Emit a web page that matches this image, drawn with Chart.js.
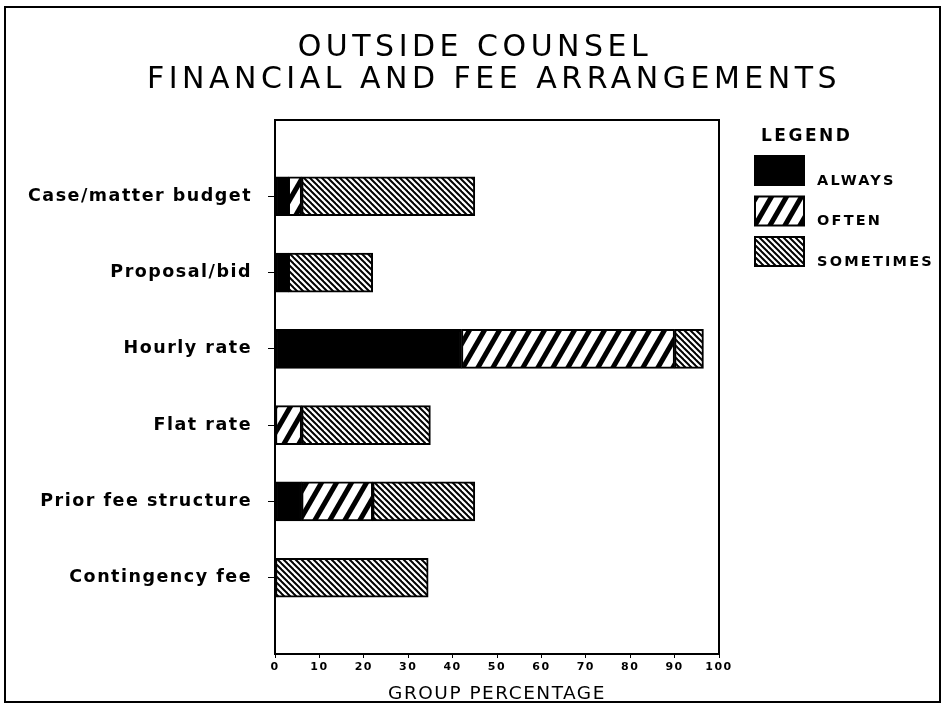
<!DOCTYPE html>
<html>
<head>
<meta charset="utf-8">
<script src="https://cdn.jsdelivr.net/npm/chart.js@4.4.1/dist/chart.umd.min.js"></script>
<style>
  body { margin: 0; background: #fff; }
</style>
</head>
<body>
<canvas id="chart" width="946" height="705"></canvas>
<script>
const categories = ['Case/matter budget', 'Proposal/bid', 'Hourly rate', 'Flat rate', 'Prior fee structure', 'Contingency fee'];
const always = [3, 3, 42, 0, 6, 0];
const often = [3, 0, 48, 6, 16, 0];
const sometimes = [39, 19, 6.5, 29, 23, 34.5];
const seriesNames = ['Always', 'Often', 'Sometimes'];
const titleLines = ['OUTSIDE COUNSEL', 'FINANCIAL AND FEE ARRANGEMENTS'];
const xTickStep = 10;

// hatch fills like the old plotter output
function stripes(w, h, lw, dir) {
  const c = document.createElement('canvas');
  c.width = w; c.height = h;
  const g = c.getContext('2d');
  g.fillStyle = '#fff';
  g.fillRect(0, 0, w, h);
  g.strokeStyle = '#000';
  g.lineWidth = lw;
  for (let i = -2; i <= 2; i++) {
    g.beginPath();
    if (dir === '/') { g.moveTo(i * w - w, 2 * h); g.lineTo(i * w + 2 * w, -h); }
    else { g.moveTo(i * w - w, -h); g.lineTo(i * w + 2 * w, 2 * h); }
    g.stroke();
  }
  return g.createPattern(c, 'repeat');
}

const fills = ['#000', stripes(15, 26, 5, '/'), stripes(6, 6, 2, '\\')];
const labels = ['', ...categories, ''];
const pad = arr => [null, ...arr.map(v => v || null), null];

// the plotter font is wide, so space the letters out
const spacingPlugin = {
  id: 'spacing',
  beforeDraw(chart) { chart.ctx.letterSpacing = '1.5px'; }
};

const framePlugin = {
  id: 'frame',
  afterDraw(chart) {
    const { ctx, chartArea: a } = chart;
    ctx.save();
    ctx.strokeStyle = '#000';
    ctx.lineWidth = 2;
    ctx.strokeRect(a.left, a.top, a.right - a.left, a.bottom - a.top);
    ctx.strokeRect(5, 7, 935, 695);

    // title
    ctx.fillStyle = '#000';
    ctx.textBaseline = 'middle';
    ctx.textAlign = 'center';
    ctx.letterSpacing = '4.5px';
    ctx.font = '30px "DejaVu Sans"';
    ctx.fillText(titleLines[0], 475, 48);
    ctx.fillText(titleLines[1], 494, 80);

    // legend
    ctx.textAlign = 'left';
    ctx.letterSpacing = '2.5px';
    ctx.font = 'bold 17px "DejaVu Sans"';
    ctx.fillText('LEGEND', 761, 137);
    ctx.letterSpacing = '2.2px';
    ctx.font = 'bold 14.5px "DejaVu Sans"';
    chart.data.datasets.forEach((ds, i) => {
      const y = 156 + i * 40.5;
      ctx.fillStyle = ds.backgroundColor;
      ctx.fillRect(755, y, 49, 29);
      ctx.lineWidth = 2;
      ctx.strokeRect(755, y, 49, 29);
      ctx.fillStyle = '#000';
      ctx.fillText(ds.label.toUpperCase(), 817, y + 25);
    });
    ctx.restore();
  }
};

new Chart(document.getElementById('chart'), {
  type: 'bar',
  data: {
    labels: labels,
    datasets: [
      { label: seriesNames[0], data: pad(always), backgroundColor: fills[0] },
      { label: seriesNames[1], data: pad(often), backgroundColor: fills[1] },
      { label: seriesNames[2], data: pad(sometimes), backgroundColor: fills[2] }
    ].map(d => ({ ...d, borderColor: '#000', borderWidth: 2, borderSkipped: false, barThickness: 39 }))
  },
  options: {
    indexAxis: 'y',
    responsive: false,
    animation: false,
    layout: { padding: { top: 120, left: 10, right: 10, bottom: 0 } },
    plugins: {
      legend: { display: false },
      tooltip: { enabled: false },
      title: { display: false }
    },
    scales: {
      x: {
        stacked: true,
        min: 0,
        max: 100,
        ticks: { stepSize: xTickStep, color: '#000', padding: 3, font: { family: 'DejaVu Sans', size: 11, weight: 'bold' } },
        grid: { drawOnChartArea: false, tickLength: 4, color: '#000' },
        border: { color: '#000', width: 2 },
        title: { display: true, text: 'GROUP PERCENTAGE', color: '#000', padding: 0, font: { family: 'DejaVu Sans', size: 18.5 } },
        afterFit: s => { s.height = 51; }
      },
      y: {
        stacked: true,
        offset: false,
        ticks: { color: '#000', padding: 16, autoSkip: false, font: { family: 'DejaVu Sans', size: 17.5, weight: 'bold' } },
        grid: {
          offset: false,
          drawOnChartArea: false,
          tickLength: 7,
          color: c => (c.index === 0 || c.index === labels.length - 1) ? 'rgba(0,0,0,0)' : '#000'
        },
        border: { color: '#000', width: 2 },
        afterFit: s => { s.width = 265; }
      },
      spacer: {
        type: 'linear',
        position: 'right',
        display: true,
        ticks: { display: false },
        grid: { display: false },
        border: { display: false },
        afterFit: s => { s.width = 217; }
      }
    }
  },
  plugins: [spacingPlugin, framePlugin]
});
</script>
</body>
</html>
